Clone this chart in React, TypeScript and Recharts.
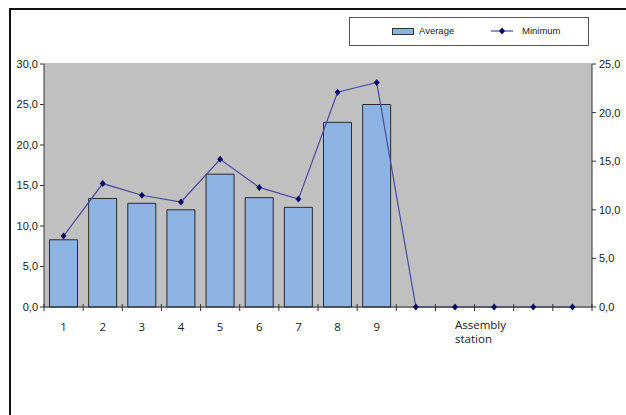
import React from 'react';
import {
  ComposedChart,
  Bar,
  Line,
  XAxis,
  YAxis,
  CartesianGrid,
  Customized,
} from 'recharts';

const stations = ['1', '2', '3', '4', '5', '6', '7', '8', '9', '', 'Assembly station', '', '', ''];
const averageValues = [8.3, 13.4, 12.8, 12.0, 16.4, 13.5, 12.3, 22.8, 25.0, null, null, null, null, null];
const minimumValues = [7.3, 12.7, 11.5, 10.8, 15.2, 12.3, 11.1, 22.1, 23.1, 0, 0, 0, 0, 0];
const leftTicks = [0, 5, 10, 15, 20, 25, 30];
const rightTicks = [0, 5, 10, 15, 20, 25];

const data = stations.map((name, i) => ({
  name: name || `_${i}`,
  label: name,
  average: averageValues[i],
  minimum: minimumValues[i],
}));

const W = 626;
const H = 415;
const PLOT_LEFT = 44;
const PLOT_RIGHT = 592;
const PLOT_TOP = 64;
const PLOT_BOTTOM = 307;
const BAND = (PLOT_RIGHT - PLOT_LEFT) / stations.length;

const fmt = (v: number) => v.toFixed(1).replace('.', ',');
const AXIS_FONT = "'Liberation Sans Narrow', 'Liberation Sans', Arial, sans-serif";
const CAT_FONT = "'Open Sans', 'DejaVu Sans', sans-serif";

// category labels + tick marks on the boundaries between categories
const StationTick = (props: any) => {
  const { x, y, index } = props;
  const label = data[index] ? data[index].label : '';
  const left = x - BAND / 2;
  const isLast = index === stations.length - 1;
  return (
    <g>
      <line x1={left} x2={left} y1={y - 3} y2={y + 4} stroke="#333" />
      {isLast && <line x1={x + BAND / 2} x2={x + BAND / 2} y1={y - 3} y2={y + 4} stroke="#333" />}
      {label.includes(' ') ? (
        <text x={x} y={y + 22} textAnchor="start" fontSize={11.5} fill="#222" fontFamily={CAT_FONT}>
          {label.split(' ').map((part: string, i: number) => (
            <tspan key={i} x={x} dy={i === 0 ? 0 : 14}>
              {part}
            </tspan>
          ))}
        </text>
      ) : (
        <text x={x} y={y + 24} textAnchor="middle" fontSize={11.5} fill="#222" fontFamily={CAT_FONT}>
          {label}
        </text>
      )}
    </g>
  );
};

const Diamond = (props: any) => {
  const { cx, cy } = props;
  if (cx == null || cy == null) return null;
  return <path d={`M${cx},${cy - 3.5} L${cx + 3},${cy} L${cx},${cy + 3.5} L${cx - 3},${cy} Z`} fill="#0a0a6a" />;
};

const PlotBackground = () => (
  <rect
    x={PLOT_LEFT}
    y={PLOT_TOP}
    width={PLOT_RIGHT - PLOT_LEFT}
    height={PLOT_BOTTOM - PLOT_TOP}
    fill="#c0c0c0"
  />
);

export default function App() {
  return (
    <div
      style={{
        position: 'absolute',
        left: 0,
        top: 0,
        width: W,
        height: H,
        background: '#fff',
        overflow: 'hidden',
      }}
    >
      {/* outer frame, only left and top visible */}
      <div
        style={{
          position: 'absolute',
          left: 9,
          top: 8,
          width: W,
          height: H,
          borderLeft: '2px solid #111',
          borderTop: '2px solid #111',
        }}
      />
      {/* legend box */}
      <div
        style={{
          position: 'absolute',
          left: 349,
          top: 17,
          width: 238,
          height: 27,
          border: '1px solid #555',
          background: '#fff',
          fontFamily: AXIS_FONT,
          fontSize: 9.5,
          color: '#222',
        }}
      >
        <div
          style={{
            position: 'absolute',
            left: 42,
            top: 10,
            width: 20,
            height: 5,
            background: '#8db3e2',
            border: '1px solid #333',
          }}
        />
        <span style={{ position: 'absolute', left: 69, top: 7 }}>Average</span>
        <svg style={{ position: 'absolute', left: 140, top: 7 }} width={24} height={12}>
          <line x1={1} x2={23} y1={6} y2={6} stroke="#4848a0" strokeWidth={1.2} />
          <path d="M12,2.5 L15,6 L12,9.5 L9,6 Z" fill="#0a0a6a" />
        </svg>
        <span style={{ position: 'absolute', left: 172, top: 7 }}>Minimum</span>
      </div>
      <div style={{ position: 'absolute', left: 0, top: 0 }}>
        <ComposedChart
          width={W}
          height={H}
          data={data}
          barCategoryGap={5.5}
          margin={{ top: PLOT_TOP, right: 0, left: 0, bottom: H - PLOT_BOTTOM - 40 }}
        >
          <Customized component={PlotBackground} />
          <CartesianGrid yAxisId="left" vertical={false} stroke="#7a7a7a" strokeWidth={1} />
          <XAxis
            dataKey="name"
            height={40}
            interval={0}
            tickSize={0}
            tickMargin={0}
            tickLine={false}
            axisLine={{ stroke: '#333' }}
            tick={<StationTick />}
          />
          <YAxis
            yAxisId="left"
            orientation="left"
            width={PLOT_LEFT}
            domain={[0, 30]}
            ticks={leftTicks}
            tickFormatter={fmt}
            tickSize={4}
            tickMargin={2}
            axisLine={{ stroke: '#333' }}
            tickLine={{ stroke: '#333' }}
            tick={{ fontSize: 11, fill: '#222', fontFamily: AXIS_FONT }}
          />
          <YAxis
            yAxisId="right"
            orientation="right"
            width={W - PLOT_RIGHT}
            domain={[0, 25]}
            ticks={rightTicks}
            tickFormatter={fmt}
            tickSize={4}
            tickMargin={3}
            axisLine={{ stroke: '#333' }}
            tickLine={{ stroke: '#333' }}
            tick={{ fontSize: 11, fill: '#222', fontFamily: AXIS_FONT }}
          />
          <Bar
            yAxisId="left"
            dataKey="average"
            fill="#8db3e2"
            stroke="#2a2a2a"
            strokeWidth={1}
            isAnimationActive={false}
          />
          <Line
            yAxisId="right"
            dataKey="minimum"
            stroke="#4848a0"
            strokeWidth={1.2}
            dot={<Diamond />}
            activeDot={false}
            isAnimationActive={false}
          />
        </ComposedChart>
      </div>
    </div>
  );
}
